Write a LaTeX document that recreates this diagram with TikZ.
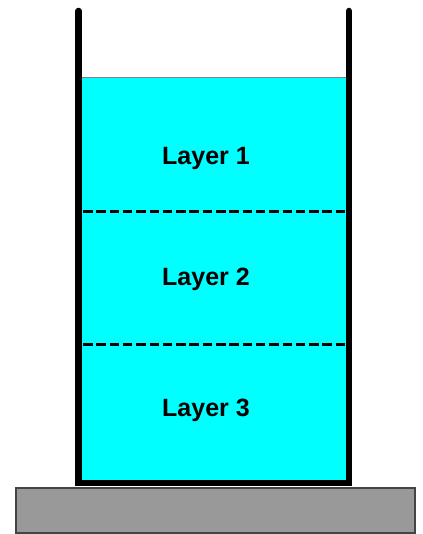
\documentclass[tikz,border=0pt]{standalone}
\usepackage{fontspec}
\setmainfont{Liberation Sans}
\definecolor{water}{HTML}{00FFFF}
\definecolor{basegray}{HTML}{999999}
\definecolor{baseedge}{HTML}{444444}
\begin{document}
\begin{tikzpicture}[x=1pt,y=-1pt,
  wall/.style={line width=6.5pt,line cap=round,line join=miter},
  layerline/.style={line width=2.2pt,dash pattern=on 9.5pt off 3.8pt},
  lbl/.style={font=\bfseries\fontsize{25}{28}\selectfont}]
\useasboundingbox (0,0) rectangle (422,534);
% base
\draw[fill=basegray,draw=baseedge,line width=2pt] (15.5,487.5) rectangle (414.5,532.5);
% water
\fill[water] (78.5,77.5) rectangle (349,483);
\draw[gray,line width=0.8pt] (78.5,77.5) -- (349,77.5);
% layer boundaries
\coordinate (d1l) at (83,211.5); \coordinate (d1r) at (346,211.5);
\coordinate (d2l) at (83,344.5); \coordinate (d2r) at (346,344.5);
\draw[layerline] (d1l) -- (d1r);
\draw[layerline] (d2l) -- (d2r);
% container
\draw[wall] (78.5,11) -- (78.5,483) -- (349,483) -- (349,11);
% labels
\node[lbl] (l1) at (206,158) {Layer 1};
\node[lbl] (l2) at (206,279) {Layer 2};
\node[lbl] (l3) at (206,410) {Layer 3};
\end{tikzpicture}
\end{document}
